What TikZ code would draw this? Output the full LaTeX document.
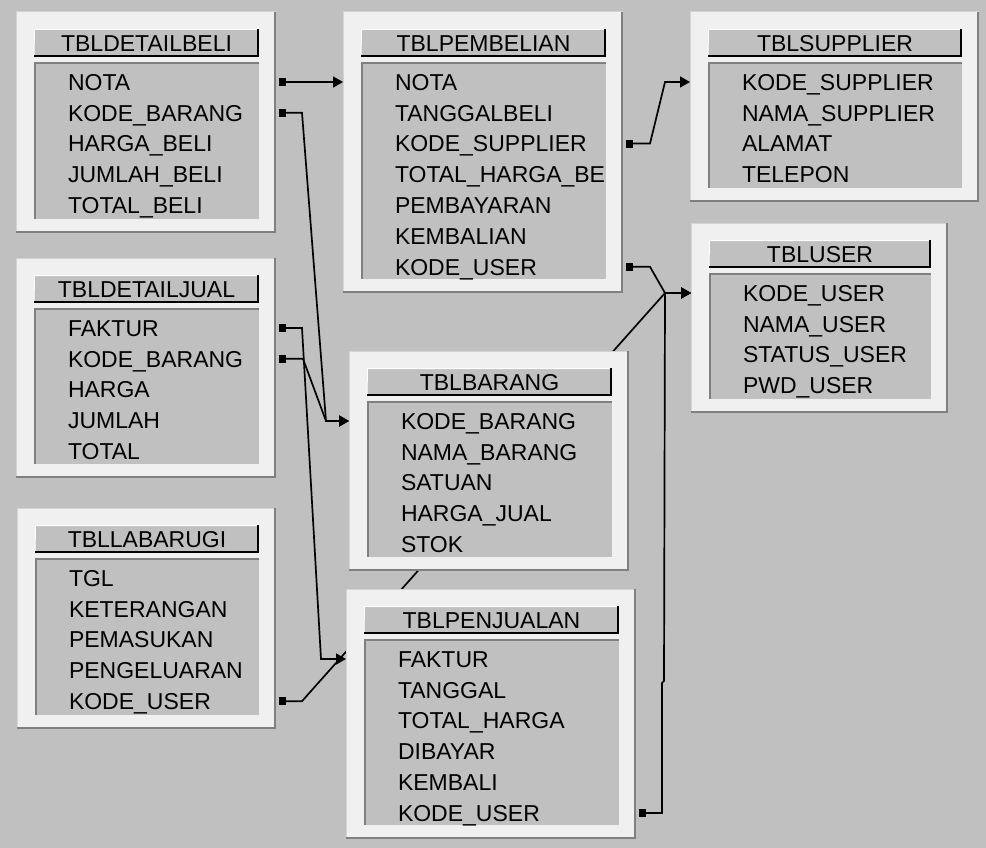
\documentclass[tikz,border=0pt]{standalone}
\usepackage{fontspec}
\setmainfont{Liberation Sans}
\usetikzlibrary{arrows.meta,calc}
\pgfdeclarelayer{back}
\pgfdeclarelayer{lines}
\pgfsetlayers{back,lines,main}
\definecolor{bgcol}{HTML}{C0C0C0}
\definecolor{framecol}{HTML}{F0F0F0}
\definecolor{shadecol}{HTML}{808080}
\definecolor{litcol}{HTML}{D4D4D4}
\tikzset{
  framebox/.style={fill=framecol, draw=none, inner sep=0pt, outer sep=0pt},
  shadowline/.style={draw=shadecol, line width=2.2pt},
  litline/.style={draw=litcol, line width=1pt},
  headbox/.style={fill=bgcol, draw=none, inner sep=0pt, outer sep=0pt},
  headedge/.style={draw=black, line width=1.8pt},
  headlit/.style={draw=white, line width=1pt},
  bodyedge/.style={draw=shadecol, line width=2.2pt},
  fieldtext/.style={inner sep=0pt, outer sep=0pt, text height=16.5pt, text depth=0pt,
    font=\fontsize{23}{26}\selectfont, text=black},
  titletext/.style={fieldtext},
  conn/.style={draw=black, line width=1.7pt, line join=miter,
    arrows={Square[length=7pt,width=8pt]-Triangle[length=10pt,width=11pt]}},
}
\newcommand\erdtable[7]{%
  \pgfmathsetmacro\erdxa{#2+18}%
  \pgfmathsetmacro\erdxb{#4-17}%
  \pgfmathsetmacro\erdha{#3+17}%
  \pgfmathsetmacro\erdba{#3+50}%
  \pgfmathsetmacro\erdbb{#5-14}%
  \pgfmathsetmacro\erdtx{#2+52}%
  \pgfmathsetmacro\erdty{#3+70}%
  \node[framebox, anchor=north west, minimum width={(#4-#2)*1pt}, minimum height={(#5-#3)*1pt}] (#1) at (#2,#3) {};
  \draw[litline] (#1.south west) -- (#1.north west) -- (#1.north east);
  \draw[shadowline] ([xshift=-1.1pt]#1.north east) -- ([shift={(-1.1pt,1.1pt)}]#1.south east) -- ([yshift=1.1pt]#1.south west);
  \node[headbox, anchor=north west, minimum width={(\erdxb-\erdxa)*1pt}, minimum height=28pt] (#1-head) at (\erdxa,\erdha) {};
  \draw[headlit] ([yshift=0.5pt]#1-head.south west) -- ([shift={(0.5pt,-0.5pt)}]#1-head.north west) -- ([yshift=-0.5pt]#1-head.north east);
  \draw[headedge] ([xshift=-0.9pt]#1-head.north east) -- ([shift={(-0.9pt,0.9pt)}]#1-head.south east) -- ([yshift=0.9pt]#1-head.south west);
  \node[titletext] (#1-title) at (#1-head.center) {#6};
  \path[fill=bgcol] (\erdxa,\erdba) rectangle (\erdxb,\erdbb);
  \draw[bodyedge] ({\erdxa+1.1},\erdbb) -- ({\erdxa+1.1},{\erdba+1.1}) -- (\erdxb,{\erdba+1.1});
  \begin{scope}
    \clip (\erdxa,\erdba) rectangle (\erdxb,\erdbb);
    \foreach \erdf [count=\erdi] in {#7} {
      \node[fieldtext, anchor=west] (#1-\erdi) at (\erdtx,{\erdty+(\erdi-1)*30.8}) {\erdf};
    }
  \end{scope}
}
\begin{document}
\begin{tikzpicture}[x=1pt,y=-1pt]
\useasboundingbox (0,0) rectangle (986,848);
\begin{pgfonlayer}{back}
  \fill[bgcol] (0,0) rectangle (986,848);
\end{pgfonlayer}

\erdtable{beli}{16}{12}{276}{233}{TBLDETAILBELI}{NOTA,KODE\_BARANG,HARGA\_BELI,JUMLAH\_BELI,TOTAL\_BELI}
\erdtable{pemb}{343}{12}{623}{293}{TBLPEMBELIAN}{NOTA,TANGGALBELI,KODE\_SUPPLIER,TOTAL\_HARGA\_BE,PEMBAYARAN,KEMBALIAN,KODE\_USER}
\erdtable{supp}{690}{12}{979}{202}{TBLSUPPLIER}{KODE\_SUPPLIER,NAMA\_SUPPLIER,ALAMAT,TELEPON}
\erdtable{user}{691}{223}{948}{413}{TBLUSER}{KODE\_USER,NAMA\_USER,STATUS\_USER,PWD\_USER}
\erdtable{djual}{16}{258}{276}{478}{TBLDETAILJUAL}{FAKTUR,KODE\_BARANG,HARGA,JUMLAH,TOTAL}
\erdtable{laba}{17}{508}{276}{729}{TBLLABARUGI}{TGL,KETERANGAN,PEMASUKAN,PENGELUARAN,KODE\_USER}
\erdtable{barang}{349}{351}{629}{571}{TBLBARANG}{KODE\_BARANG,NAMA\_BARANG,SATUAN,HARGA\_JUAL,STOK}
\erdtable{penj}{346}{589}{636}{839}{TBLPENJUALAN}{FAKTUR,TANGGAL,TOTAL\_HARGA,DIBAYAR,KEMBALI,KODE\_USER}

\begin{pgfonlayer}{lines}
  % DETAILBELI.NOTA -> PEMBELIAN.NOTA
  \draw[conn] ([xshift=3pt]beli.east |- beli-1.west) -- (pemb.west |- pemb-1.west);
  % DETAILBELI.KODE_BARANG -> BARANG.KODE_BARANG
  \draw[conn] ([xshift=3pt]beli.east |- beli-2.west) -- ++(23,0)
    -- ([xshift=-23pt]barang.west |- barang-1.west) -- (barang.west |- barang-1.west);
  % DETAILJUAL.FAKTUR -> PENJUALAN.FAKTUR
  \draw[conn] ([xshift=3pt]djual.east |- djual-1.west) -- ++(23,0)
    -- ([xshift=-25pt]penj.west |- penj-1.west) -- (penj.west |- penj-1.west);
  % DETAILJUAL.KODE_BARANG -> BARANG.KODE_BARANG
  \draw[conn] ([xshift=3pt]djual.east |- djual-2.west) -- ++(24,0)
    -- ([xshift=-23pt]barang.west |- barang-1.west) -- (barang.west |- barang-1.west);
  % LABARUGI.KODE_USER -> USER.KODE_USER
  \draw[conn] ([xshift=3pt]laba.east |- laba-5.west) -- ++(23,0)
    -- ([xshift=-26pt]user.west |- user-1.west) -- (user.west |- user-1.west);
  % PEMBELIAN.KODE_USER -> USER.KODE_USER
  \draw[conn] ([xshift=3pt]pemb.east |- pemb-7.west) -- ++(24,0)
    -- ([xshift=-26pt]user.west |- user-1.west) -- (user.west |- user-1.west);
  % PENJUALAN.KODE_USER -> USER.KODE_USER
  \draw[conn] ([xshift=3pt]penj.east |- penj-6.west) -- ++(23,0) -- ++(0,-130) -- ++(2,-2)
    -- ([xshift=-26pt]user.west |- user-1.west) -- (user.west |- user-1.west);
  % PEMBELIAN.KODE_SUPPLIER -> SUPPLIER.KODE_SUPPLIER
  \draw[conn] ([xshift=3pt]pemb.east |- pemb-3.west) -- ++(24,0)
    -- ([xshift=-25pt]supp.west |- supp-1.west) -- (supp.west |- supp-1.west);
\end{pgfonlayer}
\end{tikzpicture}
\end{document}
